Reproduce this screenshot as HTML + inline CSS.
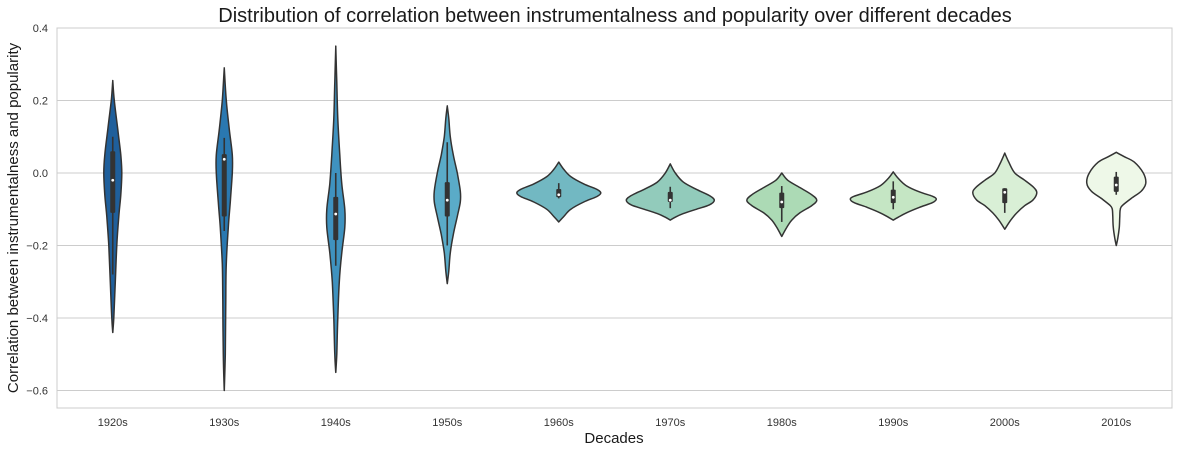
<!DOCTYPE html>
<html><head><meta charset="utf-8"><style>
body{margin:0;background:#fff;}
svg{display:block;font-family:"Liberation Sans",Arial,sans-serif;}
</style></head><body>
<svg id="chart" width="1179" height="453" viewBox="0 0 1179 453">
<text x="615" y="22" font-size="20" text-anchor="middle" fill="#1a1a1a">Distribution of correlation between instrumentalness and popularity over different decades</text>
<text transform="translate(18,218) rotate(-90)" font-size="15" text-anchor="middle" fill="#1a1a1a">Correlation between instrumentalness and popularity</text>
<text x="614" y="443" font-size="15" text-anchor="middle" fill="#1a1a1a">Decades</text>
<g id="grid"></g><g id="violins"></g><g id="ticks"></g>
<rect x="57" y="28" width="1115" height="380" fill="none" stroke="#cccccc" stroke-width="1"/>
</svg>
<script>
const categories=["1920s","1930s","1940s","1950s","1960s","1970s","1980s","1990s","2000s","2010s"];
const yTicks=[0.4,0.2,0.0,-0.2,-0.4,-0.6];
const yTickLabels=["0.4","0.2","0.0","−0.2","−0.4","−0.6"];
const colors=["#1f5f9b","#2a78b0","#3f92bf","#5aabc8","#72b8c2","#92cbbb","#acdab5","#c5e6c4","#d9efd6","#eef8e8"];
const profileY=[
[0.255,0.2,0.12,0.05,0,-0.06,-0.12,-0.2,-0.3,-0.4,-0.44],
[0.29,0.2,0.12,0.05,0,-0.08,-0.15,-0.25,-0.35,-0.5,-0.6],
[0.35,0.25,0.15,0.05,-0.03,-0.1,-0.15,-0.22,-0.3,-0.4,-0.5,-0.55],
[0.185,0.15,0.1,0.05,0,-0.05,-0.08,-0.12,-0.17,-0.22,-0.27,-0.305],
[0.03,0.01,-0.01,-0.03,-0.045,-0.055,-0.065,-0.08,-0.1,-0.12,-0.135],
[0.025,0.0,-0.025,-0.045,-0.062,-0.075,-0.088,-0.1,-0.112,-0.122,-0.13],
[0,-0.02,-0.04,-0.06,-0.075,-0.09,-0.11,-0.13,-0.15,-0.175],
[0.003,-0.015,-0.035,-0.052,-0.064,-0.072,-0.082,-0.095,-0.11,-0.122,-0.13],
[0.055,0.03,0,-0.02,-0.04,-0.055,-0.075,-0.09,-0.11,-0.13,-0.155],
[0.057,0.045,0.03,0,-0.028,-0.05,-0.07,-0.09,-0.1,-0.12,-0.15,-0.18,-0.2]];
const profileD=[
[0,1.5,5,8,9,8,6,4,2.5,1,0],
[0,2,5,8,8,6,4,2,1.5,1,0],
[0,1,2,4,6,9,9,6,3.5,2,1,0],
[0,1.5,3,6,10,13,13,10,6,3,1.5,0],
[0,5,12,25,38,42,38,25,12,5,0],
[0,5,13,26,39,44,39,26,13,5,0],
[0,6,18,30,35,30,18,10,5,0],
[0,5,13,26,39,43,39,26,13,5,0],
[0,4,10,20,29,32,28,20,12,6,0],
[0,8,18,27,29.5,25,15,6,4,3.5,3,1.5,0]];
const whiskerHi=[0.10,0.097,0.0,0.085,-0.028,-0.038,-0.036,-0.023,-0.042,0.003];
const whiskerLo=[-0.28,-0.16,-0.256,-0.2,-0.07,-0.097,-0.135,-0.1,-0.11,-0.06];
const q3=[0.06,0.052,-0.066,-0.025,-0.044,-0.052,-0.054,-0.046,-0.042,-0.01];
const q1=[-0.11,-0.12,-0.185,-0.12,-0.067,-0.08,-0.097,-0.083,-0.083,-0.052];
const medians=[-0.02,0.038,-0.113,-0.075,-0.06,-0.075,-0.08,-0.067,-0.053,-0.033];

const NS="http://www.w3.org/2000/svg";
const L=57,R=1172;
const yScale=v=>173-v*362.5;
const xScale=i=>L+(R-L)/categories.length*(i+0.5);
const dScale=d=>d*1.0;
function mk(t,a,p){const e=document.createElementNS(NS,t);for(const k in a)e.setAttribute(k,a[k]);p.appendChild(e);return e;}
function smooth(pts){let d="M"+pts[0][0]+","+pts[0][1];for(let i=0;i<pts.length-1;i++){const p0=pts[i-1]||pts[i],p1=pts[i],p2=pts[i+1],p3=pts[i+2]||p2;const c1=[p1[0]+(p2[0]-p0[0])/6,p1[1]+(p2[1]-p0[1])/6],c2=[p2[0]-(p3[0]-p1[0])/6,p2[1]-(p3[1]-p1[1])/6];d+=" C"+c1[0].toFixed(1)+","+c1[1].toFixed(1)+" "+c2[0].toFixed(1)+","+c2[1].toFixed(1)+" "+p2[0].toFixed(1)+","+p2[1].toFixed(1);}return d;}
const grid=document.getElementById("grid"),tk=document.getElementById("ticks"),vg=document.getElementById("violins");
yTicks.forEach((v,i)=>{
 const g=mk("line",{x1:L,x2:R,y1:yScale(v),y2:yScale(v),stroke:"#cccccc","stroke-width":1},grid);
 
 
 const t=mk("text",{x:48,y:yScale(v)+4,"font-size":11,"text-anchor":"end",fill:"#333"},tk);
 t.textContent=yTickLabels[i];
 
 
});
categories.forEach((c,i)=>{
 const cx=xScale(i);
 const t=mk("text",{x:cx,y:426,"font-size":11,"text-anchor":"middle",fill:"#333"},tk);
 t.textContent=c;
 
 
 const ys=profileY[i],ds=profileD[i];
 const right=ys.map((v,k)=>[cx+dScale(ds[k]),yScale(v)]);
 const left=ys.map((v,k)=>[cx-dScale(ds[k]),yScale(v)]).reverse();
 const d=smooth(right)+" "+smooth(left).replace(/^M/,"L")+" Z";
 const g=mk("g",{},vg);
 
 
 mk("path",{d:d,fill:colors[i],stroke:"#333","stroke-width":1.5,"stroke-linejoin":"round"},g);
 mk("line",{x1:cx,x2:cx,y1:yScale(whiskerHi[i]),y2:yScale(whiskerLo[i]),stroke:"#333","stroke-width":1.6},g);
 mk("rect",{x:cx-2.5,y:yScale(q3[i]),width:5,height:yScale(q1[i])-yScale(q3[i]),fill:"#333",rx:1},g);
 mk("circle",{cx:cx,cy:yScale(medians[i]),r:1.4,fill:"#fff"},g);
});
</script>
</body></html>
